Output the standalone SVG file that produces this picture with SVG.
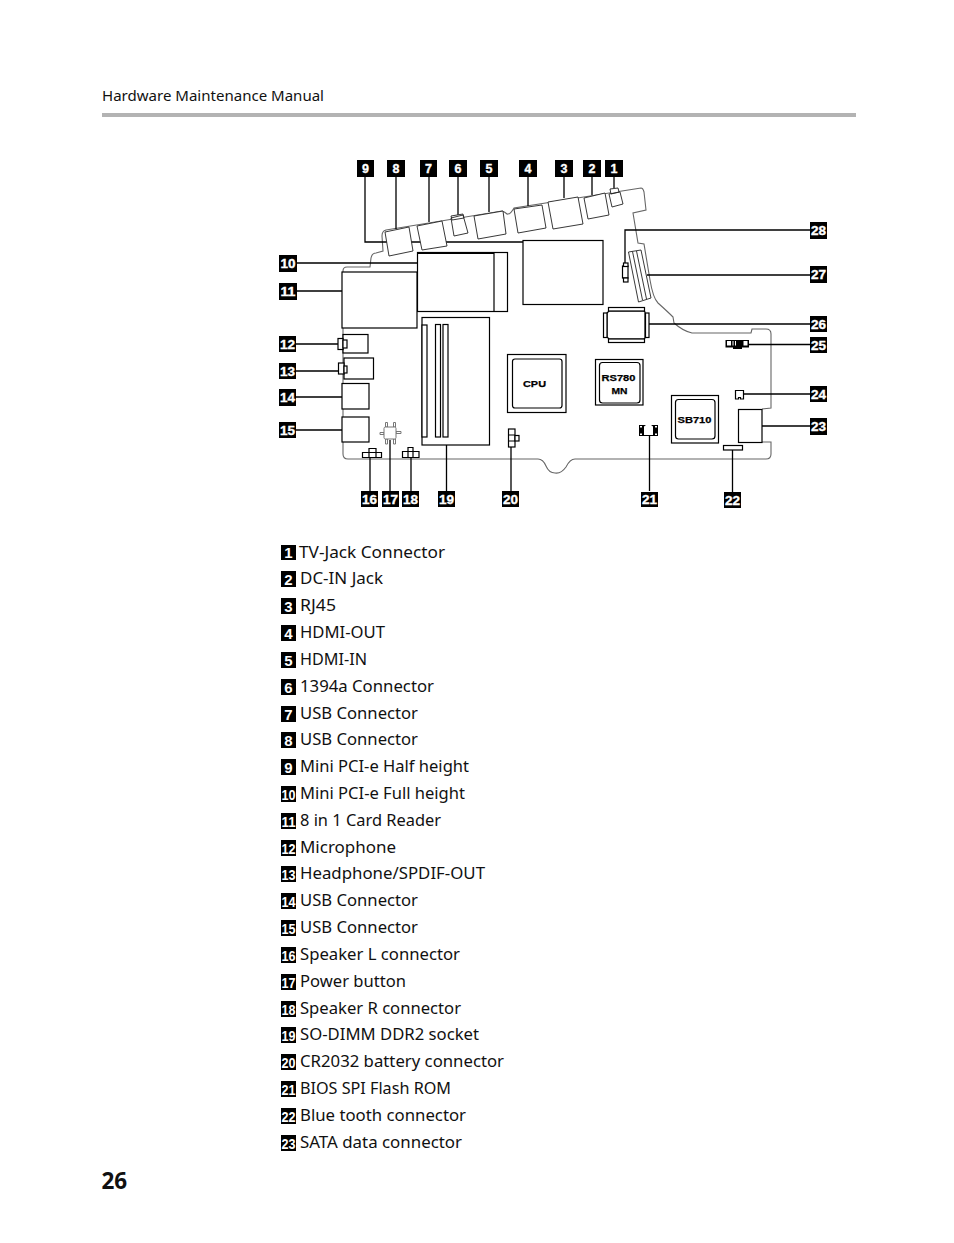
<svg xmlns="http://www.w3.org/2000/svg" width="954" height="1243" viewBox="0 0 954 1243">
<style>
.s{fill:#fff;stroke:#000;stroke-width:1.2}
.n{fill:none;stroke:#000;stroke-width:1.2}
.t{fill:#fff;stroke:#222;stroke-width:.9}
.l{fill:none;stroke:#000;stroke-width:1.3}
.o{fill:none;stroke:#666;stroke-width:1.1}
.g{fill:#fff;stroke:#777;stroke-width:1}
.b{fill:#000}
.w{fill:#fff;font:bold 12.5px "Liberation Sans",Arial,sans-serif;text-anchor:middle;stroke:#fff;stroke-width:.35}
.c{fill:#000;font:bold 9.5px "Liberation Sans",Arial,sans-serif;text-anchor:middle;stroke:#000;stroke-width:.25}
.x{fill:#111;font:16.5px "Noto Sans","Open Sans",sans-serif}
.v{fill:#fff;font:bold 15px "Liberation Sans",Arial,sans-serif;text-anchor:middle}
</style>
<rect width="954" height="1243" fill="#fff"/>
<g id="header">
<text x="102" y="101" style="fill:#111;font:15px 'Noto Sans','Open Sans',sans-serif" textLength="222" lengthAdjust="spacingAndGlyphs">Hardware Maintenance Manual</text>
<rect x="102" y="113" width="754" height="4" fill="#b3b3b3"/>
</g>
<g id="board">
<path class="o" d="M343 271Q343 267 347 267L370 267L371 258Q372 253 376 253L383 251L382 236Q382 231 386 230L502 211Q505 212 507 214Q510 215 514 208L641 188Q643 188 644 192L646 210L633 213L638 243L644 244L650 280Q653 298 658 303Q668 312 673 317L674 323Q683 331 692 333L751 333L752 329L766 329Q771 329 771 334L771 408L762 409M762 442L771 442L771 454Q771 459 766 459L575 459Q570 459 566 467Q561 474 555 473Q549 473 546 466Q543 459 538 459L348 459Q343 459 343 454L343 271"/>
</g>
<g id="connectors">
<path class="l" d="M365 177V242H523"/>
<path class="l" d="M396 177V229M429 177V222M458 177V215M489 177V212M528 177V206M564 177V198M592 177V195M614 177V188"/>
<path class="l" d="M297 263H417M297 291H342M295 344H338M295 371H338M295 397H342M295 430H342"/>
<path class="l" d="M370 458V491M390 440V491M411 458V491M446.500 445V491M511 447V491M649.500 435V491M732.500 450V492"/>
<path class="l" d="M762 426H810M743 394H810M749 344.500H810M649 324H810M647 275H810M625 263V230H810"/>
</g>
<g id="n1"><path class="t" d="M609 194L620 192L623 204L612 207ZM610 189L618 188L619 192L611 194Z"/></g>
<g id="n2"><path class="t" d="M584 198L605 193L609 215L588 219Z"/></g>
<g id="n3"><path class="t" d="M548 202L578 197L583 224L553 229Z"/></g>
<g id="n4"><path class="t" d="M514 209L542 205L546 228L518 233Z"/></g>
<g id="n5"><path class="t" d="M474 216L503 211L506 234L478 239Z"/></g>
<g id="n6"><path class="t" d="M451 218L463 215L468 233L454 236ZM451 216L463 214L464 218L452 220Z"/></g>
<g id="n7"><path class="t" d="M417 226L442 221L447 246L422 250Z"/></g>
<g id="n8"><path class="t" d="M385 232L409 227L413 251L389 256Z"/></g>
<g id="n9"><rect class="s" x="523" y="240.500" width="80" height="64"/></g>
<g id="n10"><rect class="s" x="417.500" y="252.500" width="90" height="59"/><path class="n" d="M494 252.500V312M417.500 253.500H494" /></g>
<g id="n11"><rect class="s" x="342" y="272" width="75" height="56"/></g>
<g id="n12"><rect class="s" x="343" y="334.500" width="25" height="18.500"/><rect class="s" x="338" y="338.500" width="5" height="11"/><rect class="s" x="343" y="340" width="4" height="8"/></g>
<g id="n13"><rect class="s" x="344" y="358" width="29.500" height="21"/><rect class="s" x="338.500" y="363" width="5.500" height="11"/><rect class="s" x="344" y="366" width="3" height="7"/></g>
<g id="n14"><rect class="s" x="342" y="383.500" width="27" height="25.500"/></g>
<g id="n15"><rect class="s" x="342" y="417" width="27" height="25"/></g>
<g id="n16"><path class="s" d="M362.500 452.500H369V448.500H376V452.500H381.500V457.500H362.500ZM369 452.500V457.500M376 452.500V457.500M369 452.500H376"/></g>
<g id="n17"><path class="g" d="M380 432.500H384V434.500H380ZM396 431.500H401V433.500H396ZM385.500 422.500H387.500V427H385.500ZM393.500 422.500H395.500V427H393.500ZM385.500 439H387.500V444H385.500ZM393.500 439H395.500V444H393.500Z"/><rect class="g" x="384" y="427" width="12" height="12" rx="1.500"/></g>
<g id="n18"><path class="s" d="M402.500 451.500H408V447.500H413V451.500H419V457.500H402.500ZM408 451.500V457.500M413 451.500V457.500M408 451.500H413"/></g>
<g id="n19"><rect class="s" x="422" y="317.500" width="67.500" height="127.500"/><rect class="s" x="422" y="325" width="5" height="112"/><rect class="s" x="435.500" y="324.500" width="5" height="112.500"/><rect class="s" x="443" y="324.500" width="5" height="112.500"/></g>
<g id="n20"><rect class="s" x="508.500" y="429" width="6.500" height="18"/><path class="n" d="M508.500 435H515M508.500 441H515"/><rect class="s" x="515" y="435.500" width="4" height="5.500"/></g>
<g id="n21"><rect class="b" x="639" y="425" width="19" height="11"/><path d="M644 426.500L646 425H651L653 426.500V435H644Z" fill="#fff"/><path d="M640 426H642V427.500H640ZM655 426H657V427.500H655ZM640 433.500H642V435H640ZM655 433.500H657V435H655Z" fill="#fff"/></g>
<g id="n22"><rect class="s" x="723.500" y="445.500" width="19" height="4.500"/></g>
<g id="n23"><rect class="s" x="738.500" y="409.500" width="23.500" height="33"/></g>
<g id="n24"><path class="s" d="M735.500 390.500H743.500V399H740.500V397.500H738.500V399H735.500Z"/></g>
<g id="n25"><rect class="b" x="725.500" y="340" width="23.500" height="7.500"/><rect class="b" x="733" y="340" width="9" height="9"/><path d="M727 341H731V345.500H727ZM732.500 341H733.500V345.500H732.500ZM735 341H736V345.500H735ZM743.500 341H747.500V345.500H743.500Z" fill="#fff"/></g>
<g id="n26"><path class="s" d="M609 311H644L645 312V338L644 339H609L607 337V313Z"/><rect class="s" x="608.500" y="307.500" width="36" height="3.500"/><rect class="s" x="608.500" y="339" width="36" height="3.500"/><rect class="s" x="603.500" y="313" width="3.500" height="24.500"/><rect class="s" x="645.500" y="313" width="3.500" height="24.500"/></g>
<g id="n27"><path class="t" d="M628.500 252L641 250L651 298L638.500 302Z"/><path class="t" style="fill:none" d="M632.500 251.500L642.500 300M636.500 251L646.500 299"/></g>
<g id="n28"><rect class="s" x="622.500" y="266" width="5.500" height="12"/><rect class="s" x="623.500" y="263" width="4.500" height="3.500"/><rect class="s" x="623.500" y="278" width="4.500" height="4"/></g>
<g id="cpu"><rect class="s" x="507.500" y="354.500" width="58.500" height="58"/><rect class="s" x="512.500" y="359" width="49.500" height="49" rx="2.500"/><text class="c" x="534.500" y="387" textLength="23" lengthAdjust="spacingAndGlyphs">CPU</text></g>
<g id="rs780"><rect class="s" x="595.500" y="359.500" width="47.500" height="45.500"/><rect class="s" x="599.500" y="362.500" width="40.500" height="40.500" rx="3"/><text class="c" x="618.500" y="381" textLength="34" lengthAdjust="spacingAndGlyphs">RS780</text><text class="c" x="619.500" y="393.500" textLength="16" lengthAdjust="spacingAndGlyphs">MN</text></g>
<g id="sb710"><rect class="s" x="671.500" y="395.500" width="47" height="47.500"/><rect class="s" x="675.500" y="399.500" width="39.500" height="39.500" rx="3"/><text class="c" x="694.500" y="423" textLength="34" lengthAdjust="spacingAndGlyphs">SB710</text></g>
<g id="badges">
<rect class="b" x="357" y="160" width="17" height="17"/><text class="w" x="365.500" y="173">9</text>
<rect class="b" x="387" y="160" width="18" height="17"/><text class="w" x="396" y="173">8</text>
<rect class="b" x="420" y="160" width="17" height="17"/><text class="w" x="428.500" y="173">7</text>
<rect class="b" x="449" y="160" width="18" height="17"/><text class="w" x="458" y="173">6</text>
<rect class="b" x="480" y="160" width="18" height="17"/><text class="w" x="489" y="173">5</text>
<rect class="b" x="519" y="160" width="18" height="17"/><text class="w" x="528" y="173">4</text>
<rect class="b" x="555" y="160" width="18" height="17"/><text class="w" x="564" y="173">3</text>
<rect class="b" x="583" y="160" width="18" height="17"/><text class="w" x="592" y="173">2</text>
<rect class="b" x="605" y="160" width="18" height="17"/><text class="w" x="614" y="173">1</text>
<rect class="b" x="279" y="255" width="18" height="17"/><text class="w" x="288" y="268" textLength="15" lengthAdjust="spacingAndGlyphs">10</text>
<rect class="b" x="279" y="283" width="18" height="17"/><text class="w" x="288" y="296" textLength="15" lengthAdjust="spacingAndGlyphs">11</text>
<rect class="b" x="279" y="336" width="17" height="16"/><text class="w" x="287.500" y="348.500" textLength="15" lengthAdjust="spacingAndGlyphs">12</text>
<rect class="b" x="279" y="363" width="17" height="16"/><text class="w" x="287.500" y="375.500" textLength="15" lengthAdjust="spacingAndGlyphs">13</text>
<rect class="b" x="279" y="389" width="17" height="17"/><text class="w" x="287.500" y="402" textLength="15" lengthAdjust="spacingAndGlyphs">14</text>
<rect class="b" x="279" y="422" width="17" height="16"/><text class="w" x="287.500" y="434.500" textLength="15" lengthAdjust="spacingAndGlyphs">15</text>
<rect class="b" x="361" y="491" width="17" height="16"/><text class="w" x="369.500" y="503.500" textLength="15" lengthAdjust="spacingAndGlyphs">16</text>
<rect class="b" x="382" y="491" width="17" height="16"/><text class="w" x="390.500" y="503.500" textLength="15" lengthAdjust="spacingAndGlyphs">17</text>
<rect class="b" x="402" y="491" width="17" height="16"/><text class="w" x="410.500" y="503.500" textLength="15" lengthAdjust="spacingAndGlyphs">18</text>
<rect class="b" x="438" y="491" width="17" height="16"/><text class="w" x="446.500" y="503.500" textLength="15" lengthAdjust="spacingAndGlyphs">19</text>
<rect class="b" x="502" y="491" width="17" height="16"/><text class="w" x="510.500" y="503.500" textLength="15" lengthAdjust="spacingAndGlyphs">20</text>
<rect class="b" x="641" y="492" width="17" height="15"/><text class="w" x="649.500" y="504" textLength="15" lengthAdjust="spacingAndGlyphs">21</text>
<rect class="b" x="724" y="492" width="17" height="16"/><text class="w" x="732.500" y="504.500" textLength="15" lengthAdjust="spacingAndGlyphs">22</text>
<rect class="b" x="810" y="418" width="17" height="17"/><text class="w" x="818.500" y="431" textLength="15" lengthAdjust="spacingAndGlyphs">23</text>
<rect class="b" x="810" y="386" width="17" height="16"/><text class="w" x="818.500" y="398.500" textLength="15" lengthAdjust="spacingAndGlyphs">24</text>
<rect class="b" x="810" y="337" width="17" height="16"/><text class="w" x="818.500" y="349.500" textLength="15" lengthAdjust="spacingAndGlyphs">25</text>
<rect class="b" x="810" y="316" width="17" height="16"/><text class="w" x="818.500" y="328.500" textLength="15" lengthAdjust="spacingAndGlyphs">26</text>
<rect class="b" x="810" y="266" width="17" height="17"/><text class="w" x="818.500" y="279" textLength="15" lengthAdjust="spacingAndGlyphs">27</text>
<rect class="b" x="810" y="222" width="17" height="17"/><text class="w" x="818.500" y="235" textLength="15" lengthAdjust="spacingAndGlyphs">28</text>
</g>
<g id="legend">
<rect class="b" x="281" y="545" width="15" height="15"/><text class="v" x="288.500" y="558">1</text><text class="x" x="299" y="558" textLength="146" lengthAdjust="spacingAndGlyphs">TV-Jack Connector</text>
<rect class="b" x="281" y="571" width="15" height="16"/><text class="v" x="288.500" y="585">2</text><text class="x" x="300" y="584" textLength="83" lengthAdjust="spacingAndGlyphs">DC-IN Jack</text>
<rect class="b" x="281" y="598" width="15" height="16"/><text class="v" x="288.500" y="612">3</text><text class="x" x="300" y="611" textLength="36" lengthAdjust="spacingAndGlyphs">RJ45</text>
<rect class="b" x="281" y="625" width="15" height="16"/><text class="v" x="288.500" y="639">4</text><text class="x" x="300" y="638" textLength="85" lengthAdjust="spacingAndGlyphs">HDMI-OUT</text>
<rect class="b" x="281" y="652" width="15" height="16"/><text class="v" x="288.500" y="666">5</text><text class="x" x="300" y="665" textLength="67" lengthAdjust="spacingAndGlyphs">HDMI-IN</text>
<rect class="b" x="281" y="679" width="15" height="16"/><text class="v" x="288.500" y="693">6</text><text class="x" x="300" y="692" textLength="134" lengthAdjust="spacingAndGlyphs">1394a Connector</text>
<rect class="b" x="281" y="706" width="15" height="16"/><text class="v" x="288.500" y="720">7</text><text class="x" x="300" y="719" textLength="118" lengthAdjust="spacingAndGlyphs">USB Connector</text>
<rect class="b" x="281" y="732" width="15" height="16"/><text class="v" x="288.500" y="746">8</text><text class="x" x="300" y="745" textLength="118" lengthAdjust="spacingAndGlyphs">USB Connector</text>
<rect class="b" x="281" y="759" width="15" height="16"/><text class="v" x="288.500" y="773">9</text><text class="x" x="300" y="772" textLength="169" lengthAdjust="spacingAndGlyphs">Mini PCI-e Half height</text>
<rect class="b" x="281" y="786" width="15" height="16"/><text class="v" x="288.500" y="800" textLength="14" lengthAdjust="spacingAndGlyphs">10</text><text class="x" x="300" y="799" textLength="165" lengthAdjust="spacingAndGlyphs">Mini PCI-e Full height</text>
<rect class="b" x="281" y="813" width="15" height="16"/><text class="v" x="288.500" y="827" textLength="14" lengthAdjust="spacingAndGlyphs">11</text><text class="x" x="300" y="826" textLength="141" lengthAdjust="spacingAndGlyphs">8 in 1 Card Reader</text>
<rect class="b" x="281" y="840" width="15" height="16"/><text class="v" x="288.500" y="854" textLength="14" lengthAdjust="spacingAndGlyphs">12</text><text class="x" x="300" y="853" textLength="96" lengthAdjust="spacingAndGlyphs">Microphone</text>
<rect class="b" x="281" y="866" width="15" height="16"/><text class="v" x="288.500" y="880" textLength="14" lengthAdjust="spacingAndGlyphs">13</text><text class="x" x="300" y="879" textLength="185" lengthAdjust="spacingAndGlyphs">Headphone/SPDIF-OUT</text>
<rect class="b" x="281" y="893" width="15" height="16"/><text class="v" x="288.500" y="907" textLength="14" lengthAdjust="spacingAndGlyphs">14</text><text class="x" x="300" y="906" textLength="118" lengthAdjust="spacingAndGlyphs">USB Connector</text>
<rect class="b" x="281" y="920" width="15" height="16"/><text class="v" x="288.500" y="934" textLength="14" lengthAdjust="spacingAndGlyphs">15</text><text class="x" x="300" y="933" textLength="118" lengthAdjust="spacingAndGlyphs">USB Connector</text>
<rect class="b" x="281" y="947" width="15" height="16"/><text class="v" x="288.500" y="961" textLength="14" lengthAdjust="spacingAndGlyphs">16</text><text class="x" x="300" y="960" textLength="160" lengthAdjust="spacingAndGlyphs">Speaker L connector</text>
<rect class="b" x="281" y="974" width="15" height="16"/><text class="v" x="288.500" y="988" textLength="14" lengthAdjust="spacingAndGlyphs">17</text><text class="x" x="300" y="987" textLength="106" lengthAdjust="spacingAndGlyphs">Power button</text>
<rect class="b" x="281" y="1001" width="15" height="16"/><text class="v" x="288.500" y="1015" textLength="14" lengthAdjust="spacingAndGlyphs">18</text><text class="x" x="300" y="1014" textLength="161" lengthAdjust="spacingAndGlyphs">Speaker R connector</text>
<rect class="b" x="281" y="1027" width="15" height="16"/><text class="v" x="288.500" y="1041" textLength="14" lengthAdjust="spacingAndGlyphs">19</text><text class="x" x="300" y="1040" textLength="179" lengthAdjust="spacingAndGlyphs">SO-DIMM DDR2 socket</text>
<rect class="b" x="281" y="1054" width="15" height="16"/><text class="v" x="288.500" y="1068" textLength="14" lengthAdjust="spacingAndGlyphs">20</text><text class="x" x="300" y="1067" textLength="204" lengthAdjust="spacingAndGlyphs">CR2032 battery connector</text>
<rect class="b" x="281" y="1081" width="15" height="16"/><text class="v" x="288.500" y="1095" textLength="14" lengthAdjust="spacingAndGlyphs">21</text><text class="x" x="300" y="1094" textLength="151" lengthAdjust="spacingAndGlyphs">BIOS SPI Flash ROM</text>
<rect class="b" x="281" y="1108" width="15" height="16"/><text class="v" x="288.500" y="1122" textLength="14" lengthAdjust="spacingAndGlyphs">22</text><text class="x" x="300" y="1121" textLength="166" lengthAdjust="spacingAndGlyphs">Blue tooth connector</text>
<rect class="b" x="281" y="1135" width="15" height="16"/><text class="v" x="288.500" y="1149" textLength="14" lengthAdjust="spacingAndGlyphs">23</text><text class="x" x="300" y="1148" textLength="162" lengthAdjust="spacingAndGlyphs">SATA data connector</text>
</g>
<text id="page" x="101.500" y="1189" style="fill:#111;font:bold 22.500px 'Noto Sans','Open Sans',sans-serif">26</text>
</svg>
